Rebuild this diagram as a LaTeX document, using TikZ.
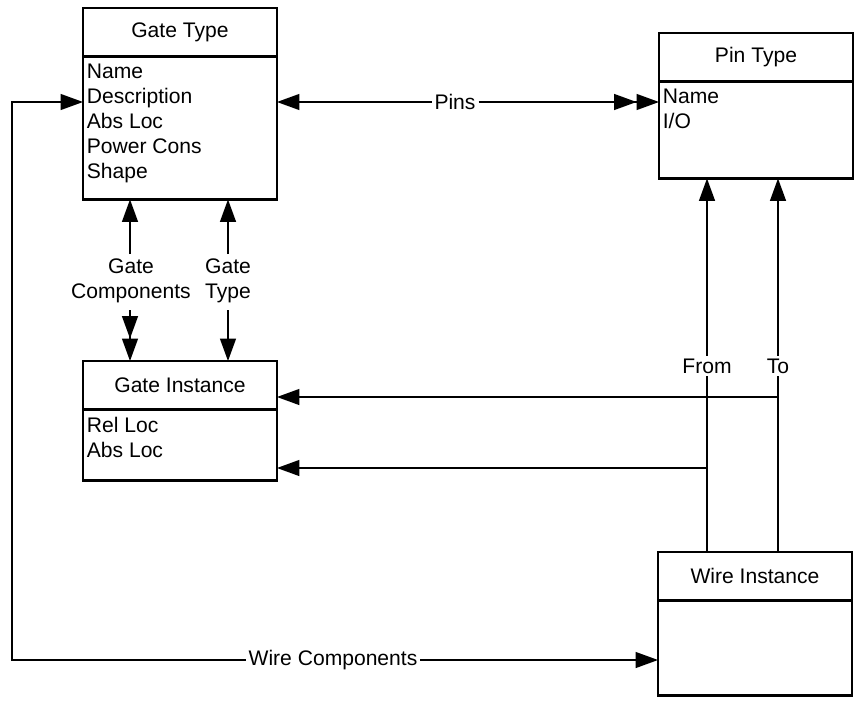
\documentclass[tikz,border=0pt]{standalone}
\usepackage{fontspec}
\setmainfont{Liberation Sans}
\usetikzlibrary{arrows.meta,positioning}
\tikzset{
  ttl/.style  ={draw, minimum width=3.88cm, minimum height=0.97cm,
                inner sep=0pt, outer sep=0pt, line width=1.2pt},
  bdy/.style  ={draw, minimum width=3.88cm, inner sep=0pt,
                outer sep=0pt, line width=1.2pt},
  attr/.style ={align=left, inner xsep=2pt, inner ysep=4pt,
                anchor=north west},
  lbl/.style  ={align=center, inner sep=1.5pt},
  rel/.style  ={-{Triangle[length=4.5mm,width=3.2mm]}, line width=0.8pt},
  rel2/.style ={-{Triangle[length=4.5mm,width=3.2mm]
                 Triangle[length=4.5mm,width=3.2mm]}, line width=0.8pt},
  lnk/.style  ={line width=0.8pt},
}

\begin{document}
\begin{tikzpicture}[x=0.02cm, y=-0.02cm,
    every node/.style={font=\fontsize{12}{14.2}\selectfont}]
  \useasboundingbox (0,0) rectangle (854,703);
  % classes
  \node[ttl, anchor=north west] (gt) at (83,8) {Gate Type};
  \node[bdy, minimum height=2.86cm, anchor=north] (gtb) at (gt.south) {};
  \node[attr] (gta) at (gtb.north west)
    {Name\\Description\\Abs Loc\\Power Cons\\Shape};
  \node[ttl, anchor=north west] (pt) at (659,33) {Pin Type};
  \node[bdy, minimum height=1.94cm, anchor=north] (ptb) at (pt.south) {};
  \node[attr] (pta) at (ptb.north west) {Name\\I/O};
  \node[ttl, anchor=north west] (gi) at (83,361) {Gate Instance};
  \node[bdy, minimum height=1.42cm, anchor=north] (gib) at (gi.south) {};
  \node[attr] (gia) at (gib.north west) {Rel Loc\\Abs Loc};
  \node[ttl, anchor=north west] (wi) at (658,552) {Wire Instance};
  \node[bdy, minimum height=1.9cm, anchor=north] (wib) at (wi.south) {};
  % labels
  \node[lbl] (pins) at (455,102) {Pins};
  \node[lbl] (gcomp) at (131,281) {Gate\\Components};
  \node[lbl] (gtyp) at (228,281) {Gate\\Type};
  \node[lbl] (from) at (707,366) {From};
  \node[lbl] (to) at (778,366) {To};
  \node[lbl] (wcomp) at (333,660) {Wire Components};
  \coordinate (gcup) at (130,254);
  \coordinate (gcdn) at (130,310);
  \coordinate (gtup) at (228,254);
  \coordinate (gtdn) at (228,310);
  \coordinate (lft) at (12,102);
  \coordinate (tojn) at (778,397);
  \coordinate (fromjn) at (707,468);
  % relations
  \draw[rel] (pins) -- (pins -| gtb.east);
  \draw[rel2] (pins) -- (pins -| ptb.west);
  \draw[rel] (gcup) -- (gcup |- gtb.south);
  \draw[rel2] (gcdn) -- (gcdn |- gi.north);
  \draw[rel] (gtup) -- (gtup |- gtb.south);
  \draw[rel] (gtdn) -- (gtdn |- gi.north);
  \draw[lnk] (from |- wi.north) -- (from);
  \draw[rel] (from) -- (from |- ptb.south);
  \draw[lnk] (to |- wi.north) -- (to);
  \draw[rel] (to) -- (to |- ptb.south);
  \draw[rel] (tojn) -- (tojn -| gi.east);
  \draw[rel] (fromjn) -- (fromjn -| gib.east);
  \draw[rel] (wcomp) -- (wcomp -| wib.west);
  \draw[rel] (wcomp) -| (lft) -- (lft -| gtb.west);
\end{tikzpicture}
\end{document}
